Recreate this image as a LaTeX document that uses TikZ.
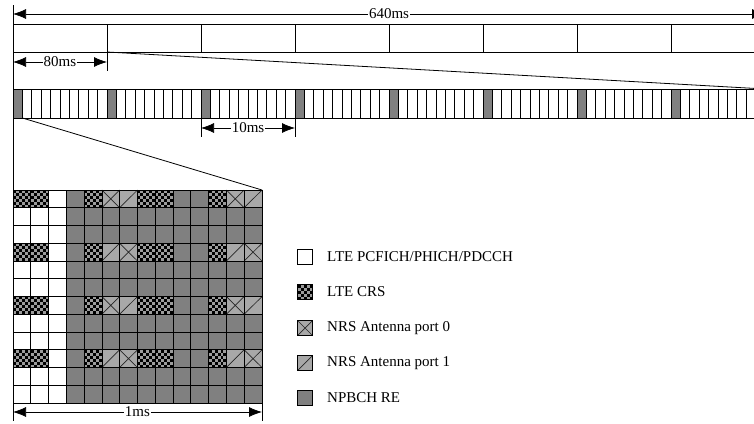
\documentclass[tikz,border=0pt]{standalone}
\usepackage{fontspec}
\setmainfont{Liberation Serif}
\usetikzlibrary{arrows.meta}
\definecolor{npbch}{HTML}{808080}
\definecolor{nrsfill}{HTML}{A8A8A8}
\definecolor{crsgray}{HTML}{9C9C9C}
\newcommand\crscell[5]{% x y w h n
  \fill[crsgray] (#1,#2) rectangle ++(#3,#4);
  \foreach \ia in {1,...,#5}{\foreach \ib in {1,...,#5}{%
    \pgfmathtruncatemacro\cpar{mod(\ia+\ib,2)}%
    \ifnum\cpar=0 \fill[black] ({#1+(\ia-1)*#3/#5},{#2+(\ib-1)*#4/#5}) rectangle ++({#3/#5},{#4/#5});\fi}}}
\newcommand\portzero[4]{%
  \fill[nrsfill] (#1,#2) rectangle ++(#3,#4);
  \draw[marklinestyle] (#1,#2) -- ++(#3,#4) ({#1+#3},#2) -- ++({-#3},#4);}
\newcommand\portone[4]{%
  \fill[nrsfill] (#1,#2) rectangle ++(#3,#4);
  \draw[marklinestyle] (#1,{#2+#4}) -- ++(#3,{-#4});}
\begin{document}
\begin{tikzpicture}[x=1pt,y=-1pt,
  thinline/.style={line width=0.8pt,black},
  dim/.style={line width=0.75pt,{Latex[length=13pt,width=10pt]}-{Latex[length=13pt,width=10pt]}},
  dimlabel/.style={fill=white,inner sep=1pt,font=\fontsize{15}{17}\selectfont},
  legtext/.style={anchor=west,inner sep=0pt,font=\fontsize{15}{17}\selectfont},
  marklinestyle/.style={line width=0.7pt,black!85},
  legbox/.style={line width=0.8pt,black},
]
\clip (0,0) rectangle (754,423);
\fill[white] (0,0) rectangle (754,423);

% ---------- top bar: 8 x 80ms ----------
\foreach \i in {0,...,7}{
  \draw[thinline] ({13+94*\i},24) rectangle ({13+94*(\i+1)},52);
}
\coordinate (a640l) at (13,14);
\coordinate (a640r) at (765,14);
\draw[dim] (a640l) -- (a640r) node[midway,dimlabel] (l640) {640ms};

% 80ms
\coordinate (t80top) at (107,52);
\coordinate (t80bot) at (107,71);
\draw[thinline] (t80top) -- (t80bot);
\coordinate (a80l) at (13,62);
\coordinate (a80r) at (107,62);
\draw[dim] (a80l) -- (a80r) node[midway,dimlabel] (l80) {80ms};

% zoom line 1
\coordinate (z1a) at (107,52);
\coordinate (z1b) at (765,89);
\draw[thinline] (z1a) -- (z1b);

% ---------- second bar: 80 x 1ms ----------
\foreach \i in {0,...,79}{
  \pgfmathtruncatemacro\m{mod(\i,10)}
  \ifnum\m=0 \fill[npbch] ({13+9.4*\i},89) rectangle ({13+9.4*(\i+1)},118);\fi
  \draw[thinline] ({13+9.4*\i},89) rectangle ({13+9.4*(\i+1)},118);
}
% 10ms
\coordinate (t10a) at (201,118);
\coordinate (t10ab) at (201,137);
\coordinate (t10b) at (295,118);
\coordinate (t10bb) at (295,137);
\draw[thinline] (t10a) -- (t10ab) (t10b) -- (t10bb);
\coordinate (a10l) at (201,128);
\coordinate (a10r) at (295,128);
\draw[dim] (a10l) -- (a10r) node[midway,dimlabel] (l10) {10ms};

% zoom line 2
\coordinate (z2a) at (22.4,118);
\coordinate (z2b) at (262,190);
\draw[thinline] (z2a) -- (z2b);

% ---------- resource grid ----------
\def\gw{17.786}
\def\gh{17.75}
\foreach \r in {0,...,11}{
  \foreach \c in {0,...,13}{
    \pgfmathsetmacro\xa{13+\c*\gw}
    \pgfmathsetmacro\ya{190+\r*\gh}
    \pgfmathtruncatemacro\rm{mod(\r,3)}
    \pgfmathtruncatemacro\rs{mod(\r,6)}
    \ifnum\rm=0
      \ifnum\rs=0
        \pgfmathtruncatemacro\t{{2,2,0,1,2,3,4,2,2,1,1,2,3,4}[\c]}
      \else
        \pgfmathtruncatemacro\t{{2,2,0,1,2,4,3,2,2,1,1,2,4,3}[\c]}
      \fi
    \else
      \pgfmathtruncatemacro\t{{0,0,0,1,1,1,1,1,1,1,1,1,1,1}[\c]}
    \fi
    \ifcase\t
      \fill[white] (\xa,\ya) rectangle ++(\gw,\gh);
    \or
      \fill[npbch] (\xa,\ya) rectangle ++(\gw,\gh);
    \or
      \crscell{\xa}{\ya}{\gw}{\gh}{6}
    \or
      \portzero{\xa}{\ya}{\gw}{\gh}
    \or
      \portone{\xa}{\ya}{\gw}{\gh}
    \fi
  }
}
\foreach \c in {0,...,14}{
  \draw[thinline] ({13+\c*\gw},190) -- ({13+\c*\gw},403);
}
\foreach \r in {0,...,12}{
  \draw[thinline] (13,{190+\r*\gh}) -- (262,{190+\r*\gh});
}

% 1ms
\coordinate (t1a) at (262,403);
\coordinate (t1b) at (262,421);
\draw[thinline] (t1a) -- (t1b);
\coordinate (a1l) at (13,412);
\coordinate (a1r) at (262,412);
\draw[dim] (a1l) -- (a1r) node[midway,dimlabel] (l1) {1ms};

% left vertical
\coordinate (vtop) at (13,5);
\coordinate (vbot) at (13,421);
\draw[thinline] (vtop) -- (vbot);

% ---------- legend ----------
\def\lx{297.5}
\def\ls{15}
% white
\fill[white] (\lx,249.5) rectangle ++(\ls,\ls);
\draw[legbox] (\lx,249.5) rectangle ++(\ls,\ls);
\node[legtext] (lg1) at (327,257) {LTE PCFICH/PHICH/PDCCH};
% CRS
\crscell{\lx}{284.5}{\ls}{\ls}{5}
\draw[legbox] (\lx,284.5) rectangle ++(\ls,\ls);
\node[legtext] (lg2) at (327,292) {LTE CRS};
% port 0
\portzero{\lx}{320.5}{\ls}{\ls}
\draw[legbox] (\lx,320.5) rectangle ++(\ls,\ls);
\node[legtext] (lg3) at (327,328) {NRS Antenna port 0};
% port 1
\portone{\lx}{355.5}{\ls}{\ls}
\draw[legbox] (\lx,355.5) rectangle ++(\ls,\ls);
\node[legtext] (lg4) at (327,363) {NRS Antenna port 1};
% NPBCH
\fill[npbch] (\lx,390.5) rectangle ++(\ls,\ls);
\draw[legbox] (\lx,390.5) rectangle ++(\ls,\ls);
\node[legtext] (lg5) at (327,398) {NPBCH RE};
\end{tikzpicture}
\end{document}
